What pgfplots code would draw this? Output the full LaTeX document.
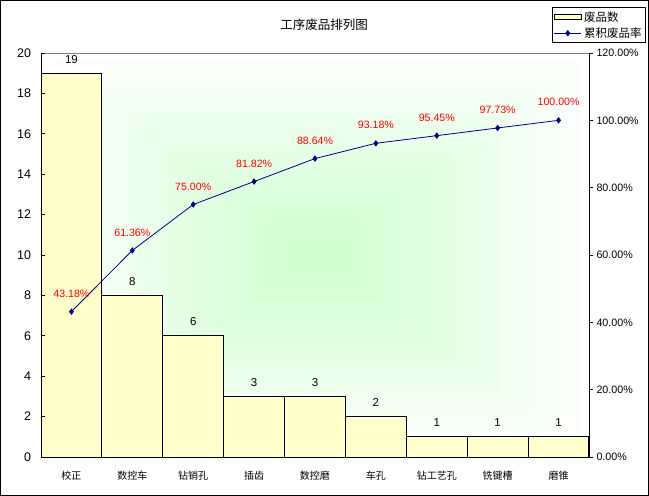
\documentclass[border=0pt]{standalone}
\usepackage{pgfplots}
\pgfplotsset{compat=1.18}
\usepackage{fontspec}
\setmainfont{Liberation Sans}
\newfontfamily\cjk{Noto Sans CJK SC}
\definecolor{barfill}{RGB}{255,255,204}
\definecolor{bggreen}{RGB}{204,255,204}
\definecolor{navyline}{RGB}{0,0,128}
\pgfplotsset{
  barlegend/.style={legend image code/.code={\draw[##1] (0bp,-2.5bp) rectangle (27bp,2.5bp);}},
  linelegend/.style={legend image code/.code={\draw[mark repeat=2,mark phase=2,##1] plot coordinates {(0bp,0bp) (13.5bp,0bp) (27bp,0bp)};}},
}
\begin{document}
\begin{tikzpicture}
\draw[line width=1bp] (0.5bp,0.5bp) rectangle (648.5bp,495.5bp);
% rectangular "from centre" background gradient of the plot area
\foreach \i in {0,...,59} {
  \pgfmathsetmacro\d{1-\i/60}
  \pgfmathsetmacro\p{100*(1-\d)}
  \fill[bggreen!\p!white] ({315bp-\d*274bp},{241bp-\d*202bp}) rectangle ({315bp+\d*274bp},{241bp+\d*202bp});
}
\node[font=\cjk\fontsize{12.5bp}{14bp}\selectfont] at (324bp,471bp) {工序废品排列图};
\begin{axis}[
  at={(41bp,39bp)}, anchor=south west,
  scale only axis, width=548bp, height=404bp,
  xmin=-0.5, xmax=8.5, ymin=0, ymax=20,
  axis x line*=bottom, axis y line*=left,
  axis line style={line width=0.8bp},
  axis on top,
  xtick={0,...,8},
  xticklabels={校正,数控车,钻销孔,插齿,数控磨,车孔,钻工艺孔,铣键槽,磨锥},
  xticklabel style={font=\cjk\fontsize{10bp}{12bp}\selectfont, anchor=center, yshift=-15bp},
  x tick style={draw=none},
  ytick={0,2,...,20},
  y tick style={black, line width=0.8bp},
  tick align=inside, major tick length=4bp,
  yticklabel style={font=\fontsize{12.5bp}{14bp}\selectfont, xshift=-6.5bp},
  /pgf/number format/assume math mode=true,
  ybar, bar width=1,
  nodes near coords,
  every node near coord/.append style={font=\fontsize{11.5bp}{13bp}\selectfont, anchor=center, yshift=14bp, black},
  clip=false,
]
\draw[gray, line width=0.8bp] (rel axis cs:0,1) -- (rel axis cs:1,1);
\addplot[fill=barfill, draw=black, line width=1bp] coordinates {(0,19) (1,8) (2,6) (3,3) (4,3) (5,2) (6,1) (7,1) (8,1)};
\end{axis}
\begin{axis}[
  at={(41bp,39bp)}, anchor=south west,
  scale only axis, width=548bp, height=404bp,
  xmin=-0.5, xmax=8.5, ymin=0, ymax=120,
  axis x line=none, axis y line*=right,
  axis line style={line width=0.8bp},
  ytick={0,20,...,120},
  tick align=outside, major tick length=4bp,
  y tick style={black, line width=0.8bp},
  yticklabel={\pgfmathprintnumber[fixed,fixed zerofill,precision=2]{\tick}\%},
  yticklabel style={font=\fontsize{10.7bp}{12bp}\selectfont},
  /pgf/number format/assume math mode=true,
  legend style={at={(0.9325,1.1139)}, anchor=north west, draw=black, line width=0.8bp,
    font=\cjk\fontsize{11.5bp}{12bp}\selectfont, inner sep=1.5bp, row sep=0bp,
    nodes={inner sep=2.5bp}},
  legend cell align=left,
  clip=false,
]
\addlegendimage{fill=barfill, draw=black, line width=0.8bp, barlegend}
\addlegendentry{废品数}
\addplot[navyline, line width=0.8bp, mark=diamond*, mark size=2.6bp,
  nodes near coords={\pgfmathprintnumber[fixed,fixed zerofill,precision=2]{\pgfplotspointmeta}\%},
  every node near coord/.append style={font=\fontsize{10.6bp}{12bp}\selectfont, anchor=center, yshift=18bp, red},
  linelegend]
  coordinates {(0,43.18) (1,61.36) (2,75.00) (3,81.82) (4,88.64) (5,93.18) (6,95.45) (7,97.73) (8,100.00)};
\addlegendentry{累积废品率}
\end{axis}
\end{tikzpicture}
\end{document}
